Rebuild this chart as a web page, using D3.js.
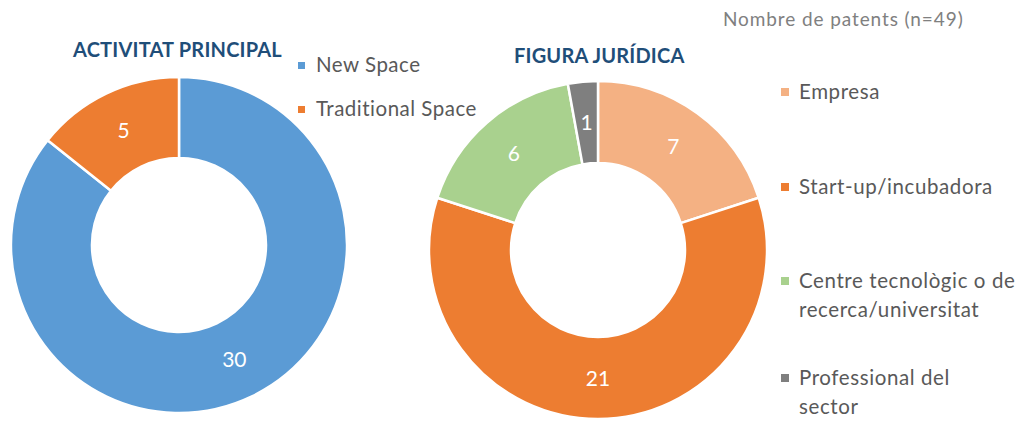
<!DOCTYPE html>
<html>
<head>
<meta charset="utf-8">
<script src="https://cdn.jsdelivr.net/npm/d3@7"></script>
<style>
  body { margin: 0; background: #fff; }
  text { font-family: Lato, "Open Sans", sans-serif; }
</style>
</head>
<body>
<div class="container"></div>
<script>
// data
const activitatLabels = ['New Space', 'Traditional Space'];
const activitatValues = [30, 5];
const activitatColors = ['#5B9BD5', '#ED7D31'];

const figuraLabels = [['Empresa'], ['Start-up/incubadora'], ['Centre tecnològic o de', 'recerca/universitat'], ['Professional del', 'sector']];
const figuraValues = [7, 21, 6, 1];
const figuraColors = ['#F4B183', '#ED7D31', '#A9D18E', '#7F7F7F'];

const width = 1018;
const height = 421;

const svg = d3.select('.container').append('svg').attr('width', width).attr('height', height);

//note top right
svg
  .append('text')
  .text('Nombre de patents (n=49)')
  .attr('x', 723)
  .attr('y', 26)
  .attr('font-size', 19)
  .attr('letter-spacing', 0.9)
  .attr('fill', '#808080');

const pie = d3.pie().sort(null).value(d => d);

const drawDonut = (cx, cy, outer, inner, values, colors) => {
  const g = svg.append('g').attr('transform', `translate(${cx},${cy})`);
  const arc = d3.arc().innerRadius(inner).outerRadius(outer);
  const arcs = pie(values);

  g.selectAll('path')
    .data(arcs)
    .join('path')
    .attr('d', arc)
    .attr('fill', (d, i) => colors[i])
    .attr('stroke', '#fff')
    .attr('stroke-width', 2.5)
    .attr('stroke-linejoin', 'round');

  g.selectAll('text')
    .data(arcs)
    .join('text')
    .attr('transform', d => `translate(${arc.centroid(d)})`)
    .attr('text-anchor', 'middle')
    .attr('dy', '0.36em')
    .attr('font-size', 21)
    .attr('fill', '#fff')
    .text(d => d.data);
};

//left donut
drawDonut(179, 245, 168, 87, activitatValues, activitatColors);

svg
  .append('text')
  .text('ACTIVITAT  PRINCIPAL')
  .attr('x', 73)
  .attr('y', 57)
  .attr('font-size', 20)
  .attr('font-weight', 'bold')
  .attr('letter-spacing', 0.2)
  .attr('fill', '#1F4E79');

const leftLegend = svg
  .append('g')
  .selectAll('g')
  .data(activitatLabels)
  .join('g')
  .attr('transform', (d, i) => `translate(298,${72 + i * 44})`);

leftLegend
  .append('rect')
  .attr('x', 0)
  .attr('y', -10)
  .attr('width', 7)
  .attr('height', 7)
  .attr('fill', (d, i) => activitatColors[i]);

leftLegend
  .append('text')
  .attr('x', 18)
  .attr('font-size', 20.5)
  .attr('letter-spacing', 0.5)
  .attr('fill', '#595959')
  .text(d => d);

//right donut
drawDonut(598, 250, 169, 87, figuraValues, figuraColors);

svg
  .append('text')
  .text('FIGURA JURÍDICA')
  .attr('x', 514)
  .attr('y', 63)
  .attr('font-size', 20)
  .attr('font-weight', 'bold')
  .attr('letter-spacing', 0.2)
  .attr('fill', '#1F4E79');

const legendY = [99, 194, 288, 385];
const rightLegend = svg
  .append('g')
  .selectAll('g')
  .data(figuraLabels)
  .join('g')
  .attr('transform', (d, i) => `translate(781,${legendY[i]})`);

rightLegend
  .append('rect')
  .attr('x', 0)
  .attr('y', -11)
  .attr('width', 8)
  .attr('height', 8)
  .attr('fill', (d, i) => figuraColors[i]);

rightLegend
  .append('text')
  .attr('font-size', 20.5)
  .attr('letter-spacing', 0.6)
  .attr('fill', '#595959')
  .selectAll('tspan')
  .data(d => d)
  .join('tspan')
  .attr('x', 18)
  .attr('dy', (d, i) => (i === 0 ? 0 : 29))
  .text(d => d);
</script>
</body>
</html>
